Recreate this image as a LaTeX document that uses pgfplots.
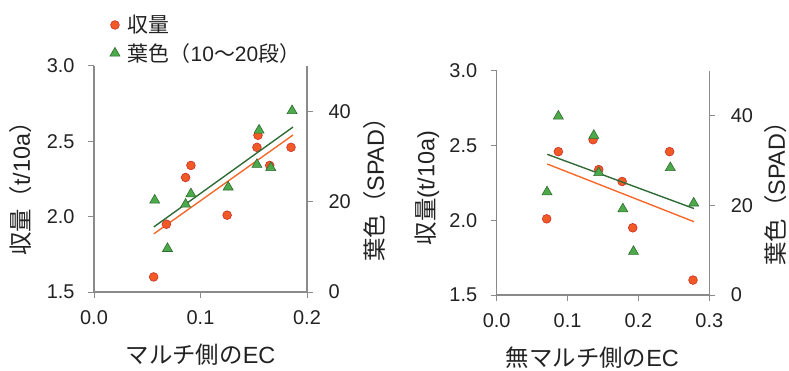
\documentclass[border=0pt]{standalone}
\usepackage{fontspec}
\setmainfont{Liberation Sans}
\newfontfamily\jp{Noto Sans CJK JP}
\usepackage{pgfplots}
\pgfplotsset{compat=1.18}
\definecolor{axgray}{HTML}{8A8A8A}
\definecolor{circfill}{HTML}{F15A24}
\definecolor{circedge}{HTML}{C9302C}
\definecolor{trifill}{HTML}{4DAA4A}
\definecolor{triedge}{HTML}{2D6A2F}
\definecolor{oline}{HTML}{F5692A}
\definecolor{gline}{HTML}{2F6B36}
\definecolor{txt}{HTML}{222222}
\newcommand\tfont{\fontsize{20}{24}\selectfont}
\newcommand\lfont{\fontsize{23.5}{28}\selectfont}
\newcommand\gfont{\fontsize{21}{25}\selectfont}
\pgfplotsset{
  base/.style={scale only axis, axis line style={draw=axgray, line width=1.1pt, -},
    tick style={draw=axgray, line width=1pt}, tick align=outside, major tick length=6bp,
    ticklabel style={font=\tfont, text=txt},
    label style={font=\lfont, text=txt},
    /pgf/number format/assume math mode=true,
    clip=false},
  lefty/.style={xticklabel style={/pgf/number format/.cd, fixed, fixed zerofill, precision=1, /tikz/yshift=-9bp},
    yticklabel style={/pgf/number format/.cd, fixed, fixed zerofill, precision=1, /tikz/xshift=-10bp}},
  righty/.style={yticklabel style={xshift=12bp}},
  circ/.style={only marks, mark=*, mark size=4.4pt, mark options={fill=circfill, draw=circedge, line width=0.6pt}},
  tri/.style={only marks, mark=triangle*, mark size=5.8pt, mark options={fill=trifill, draw=triedge, line width=0.6pt}},
}
\begin{document}
\begin{tikzpicture}
\useasboundingbox (0,0) rectangle (789bp,371bp);
% ---------- left chart ----------
\begin{axis}[base, lefty, at={(94bp,79bp)}, anchor=south west, width=213bp, height=226bp,
  xmin=0, xmax=0.2, ymin=1.5, ymax=3.0,
  axis x line*=bottom, axis y line*=left,
  xtick={0,0.1,0.2}, ytick={1.5,2,2.5,3},
  xlabel={\jp マルチ側の\rmfamily EC},
  xlabel style={at={(axis description cs:0.5,-0.279)}, anchor=center},
  ylabel={\jp 収量（\rmfamily t/10a\jp ）},
  ylabel style={at={(axis description cs:-0.343,0.482)}, anchor=center},
  legend style={at={(axis description cs:0.06,1.242)}, anchor=north west, draw=none, fill=none,
    font=\gfont, text=txt, row sep=5bp},
  legend cell align=left,
]
\addplot[oline, line width=1.4pt, forget plot] coordinates {(0.0562,1.886) (0.1869,2.542)};
\addplot[circ] coordinates {
(0.056,1.60) (0.068,1.95) (0.086,2.26) (0.091,2.34) (0.125,2.01)
(0.153,2.46) (0.154,2.54) (0.165,2.34) (0.185,2.46)};
\addlegendentry{\hspace{6bp}\jp 収量}
\addlegendimage{tri}
\addlegendentry{\hspace{6bp}\jp 葉色（\rmfamily 10\jp ～\rmfamily 20\jp 段）}
\end{axis}
\begin{axis}[base, righty, at={(94bp,79bp)}, anchor=south west, width=213bp, height=226bp,
  xmin=0, xmax=0.2, ymin=0, ymax=50,
  axis x line=none, axis y line*=right,
  ytick={0,20,40},
  ylabel={\jp 葉色（\rmfamily SPAD\jp ）},
  ylabel style={at={(axis description cs:1.319,0.478)}, anchor=center},
]
\addplot[gline, line width=1.4pt] coordinates {(0.0562,14.4) (0.1869,36.5)};
\addplot[tri] coordinates {
(0.057,20.3) (0.069,9.6) (0.086,19.4) (0.091,21.7) (0.126,23.2)
(0.153,28.2) (0.155,35.8) (0.166,27.5) (0.186,40.1)};
\end{axis}
% ---------- right chart ----------
\begin{axis}[base, lefty, at={(496.7bp,76bp)}, anchor=south west, width=212.6bp, height=224bp,
  xmin=0, xmax=0.3, ymin=1.5, ymax=3.0,
  axis x line*=bottom, axis y line*=left,
  xtick={0,0.1,0.2,0.3}, ytick={1.5,2,2.5,3},
  xlabel={\jp 無マルチ側の\rmfamily EC},
  xlabel style={at={(axis description cs:0.45,-0.281)}, anchor=center},
  ylabel={\jp 収量\rmfamily (t/10a)},
  ylabel style={at={(axis description cs:-0.328,0.478)}, anchor=center},
]
\addplot[oline, line width=1.4pt] coordinates {(0.0714,2.377) (0.2783,1.991)};
\addplot[circ] coordinates {
(0.0705,2.01) (0.087,2.46) (0.136,2.54) (0.144,2.34) (0.177,2.26)
(0.192,1.95) (0.244,2.46) (0.277,1.60)};
\end{axis}
\begin{axis}[base, righty, at={(496.7bp,76bp)}, anchor=south west, width=212.6bp, height=224bp,
  xmin=0, xmax=0.3, ymin=0, ymax=50,
  axis x line=none, axis y line*=right,
  ytick={0,20,40},
  ylabel={\jp 葉色（\rmfamily SPAD\jp ）},
  ylabel style={at={(axis description cs:1.314,0.478)}, anchor=center},
]
\addplot[gline, line width=1.4pt] coordinates {(0.0714,31.4) (0.2783,19.3)};
\addplot[tri] coordinates {
(0.071,23.0) (0.087,39.9) (0.137,35.6) (0.144,27.3) (0.178,19.2)
(0.193,9.7) (0.245,28.4) (0.278,20.5)};
\end{axis}
\end{tikzpicture}
\end{document}
